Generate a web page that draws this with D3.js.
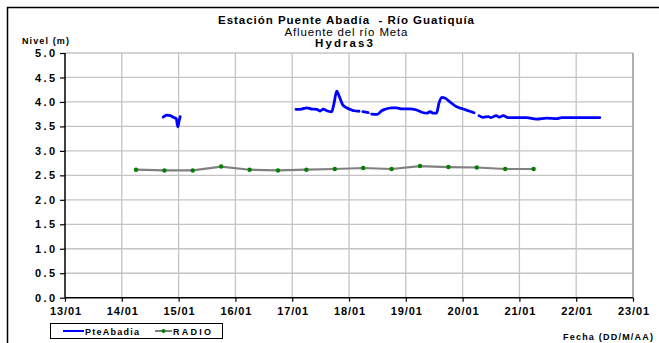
<!DOCTYPE html>
<html><head><meta charset="utf-8">
<script src="https://cdn.jsdelivr.net/npm/d3@7"></script>
<style>
body{margin:0;background:#fff;}
svg{display:block;font-family:"Liberation Sans",Arial,sans-serif;}
text{white-space:pre;}
</style></head>
<body><svg id="c" width="659" height="343"></svg>
<script>
const titleLines = ["Estación Puente Abadía  - Río Guatiquía", "Afluente del río Meta", "Hydras3"];
const yLabel = "Nivel (m)";
const xLabel = "Fecha (DD/M/AA)";
const seriesNames = ["PteAbadia", "RADIO"];
const yTicks = [0, 0.5, 1, 1.5, 2, 2.5, 3, 3.5, 4, 4.5, 5];

// PteAbadia (null = gap)
const pteTimes = [
 "14/01 17:30","14/01 19:00","14/01 20:30","14/01 22:00","14/01 23:00","14/01 23:40","15/01 00:15","15/01 00:40",
 "15/01 06:00",
 "17/01 01:36","17/01 04:00","17/01 06:07","17/01 08:14","17/01 10:20","17/01 11:44","17/01 13:10","17/01 14:34",
 "17/01 16:40","17/01 17:40","17/01 18:48","17/01 19:55","17/01 21:20","17/01 23:00","18/01 01:08","18/01 02:10",
 "18/01 04:14","18/01 05:00",
 "18/01 05:50","18/01 08:10","18/01 09:00",
 "18/01 09:36","18/01 12:00","18/01 13:48","18/01 15:13","18/01 18:00","18/01 20:10","18/01 22:10","19/01 01:47",
 "19/01 04:35","19/01 06:45","19/01 08:50","19/01 10:15","19/01 11:40","19/01 13:00","19/01 14:00","19/01 15:10",
 "19/01 16:30","19/01 18:40","19/01 21:30","20/01 00:15","20/01 03:00","20/01 04:50","20/01 06:00",
 "20/01 06:55","20/01 08:40","20/01 10:50","20/01 12:00","20/01 14:10","20/01 15:30","20/01 17:10","20/01 19:15",
 "20/01 22:50","21/01 03:00","21/01 07:15","21/01 11:30","21/01 15:50","21/01 17:50","21/01 21:20","22/01 10:00"
];
const pteValues = [
 3.69,3.73,3.72,3.68,3.66,3.49,3.62,3.70,
 null,
 3.85,3.855,3.88,3.855,3.85,3.815,3.855,3.82,
 3.80,3.97,4.22,4.11,3.94,3.88,3.835,3.82,
 3.81,null,
 3.80,3.78,null,
 3.75,3.745,3.82,3.85,3.88,3.88,3.86,3.86,
 3.835,3.79,3.77,3.80,3.77,3.77,3.97,4.095,
 4.08,4.00,3.90,3.855,3.81,3.78,null,
 3.72,3.685,3.70,3.68,3.72,3.69,3.72,3.68,
 3.68,3.68,3.65,3.67,3.66,3.68,3.68,3.68
];

// RADIO
const radioTimes = ["14/01 06:00","14/01 18:00","15/01 06:00","15/01 18:00","16/01 06:00","16/01 18:00","17/01 06:00",
 "17/01 18:00","18/01 06:00","18/01 18:00","19/01 06:00","19/01 18:00","20/01 06:00","20/01 18:00","21/01 06:00"];
const radioValues = [2.615,2.60,2.60,2.68,2.615,2.60,2.615,2.63,2.65,2.63,2.69,2.67,2.66,2.63,2.63];

const parse = d3.timeParse("%d/%m %H:%M");
const svg = d3.select("#c");

// outer frame
svg.append("rect").attr("x",7.5).attr("y",7.5).attr("width",670).attr("height",350)
  .attr("fill","none").attr("stroke","#000").attr("stroke-width",1.5);

const x = d3.scaleTime().domain([parse("13/01 00:00"), parse("23/01 00:00")]).range([65, 633]);
const y = d3.scaleLinear().domain([0,5]).range([297.7, 53]);

// grid
const g = svg.append("g");
g.selectAll(".hg").data(yTicks.slice(1)).join("line")
  .attr("x1",65).attr("x2",633).attr("y1",d=>y(d)).attr("y2",d=>y(d))
  .attr("stroke","#c4c4c4").attr("stroke-width",1.3);
const days = d3.timeDay.range(parse("13/01 00:00"), d3.timeDay.offset(parse("23/01 00:00"),1));
g.selectAll(".vg").data(days.slice(1)).join("line")
  .attr("x1",d=>x(d)).attr("x2",d=>x(d)).attr("y1",53).attr("y2",297.7)
  .attr("stroke","#c4c4c4").attr("stroke-width",1.3);
svg.append("line").attr("x1",633).attr("x2",633).attr("y1",53).attr("y2",297.7).attr("stroke","#999").attr("stroke-width",1.3);

// axes
const yAxis = d3.axisLeft(y).tickValues(yTicks).tickFormat(d3.format(".1f")).tickSize(5).tickPadding(5);
const ya = svg.append("g").attr("transform","translate(65,0)").call(yAxis);
const xAxis = d3.axisBottom(x).tickValues(days).tickFormat(d3.timeFormat("%d/%m")).tickSize(4).tickPadding(6);
const xa = svg.append("g").attr("transform","translate(0,297.7)").call(xAxis);
[ya, xa].forEach(a=>{
  a.select(".domain").attr("stroke","#000").attr("stroke-width",1.5);
  a.selectAll(".tick line").attr("stroke","#000").attr("stroke-width",1.2);
  a.selectAll("text").attr("fill","#000").attr("font-weight","bold").attr("font-size","11px")
    .attr("font-family","Liberation Sans, Arial, sans-serif").attr("lengthAdjust","spacing");
});
ya.selectAll("text").attr("textLength",20);
xa.selectAll("text").attr("textLength",31);
ya.select(".domain").attr("d","M0,53V297.7");
xa.select(".domain").attr("d","M65,0H633");

// RADIO line
const ptsR = radioTimes.map((t,i)=>({t:parse(t), v:radioValues[i]}));
svg.append("path").datum(ptsR)
  .attr("d", d3.line().x(d=>x(d.t)).y(d=>y(d.v)))
  .attr("fill","none").attr("stroke","#808080").attr("stroke-width",2.2);
svg.selectAll(".rdot").data(ptsR).join("circle")
  .attr("cx",d=>x(d.t)).attr("cy",d=>y(d.v)).attr("r",2.2).attr("fill","#008000");

// PteAbadia
const ptsP = pteTimes.map((t,i)=>({t:parse(t), v:pteValues[i]}));
svg.append("path").datum(ptsP)
  .attr("d", d3.line().defined(d=>d.v!==null).x(d=>x(d.t)).y(d=>y(d.v)).curve(d3.curveMonotoneX))
  .attr("fill","none").attr("stroke","#0000ff").attr("stroke-width",2.8)
  .attr("stroke-linejoin","round").attr("stroke-linecap","round");

// text helper
function txt(xp, yp, s, size, bold, anchor, len){
  const t = svg.append("text").attr("x",xp).attr("y",yp).attr("font-size",size+"px")
    .attr("font-weight",bold?"bold":"normal").attr("text-anchor",anchor).text(s);
  if(len){ t.attr("textLength",len).attr("lengthAdjust","spacing"); }
  return t;
}
txt(346, 24, titleLines[0], 11.5, true, "middle", 256);
txt(346, 35.5, titleLines[1], 11.5, false, "middle", 123);
txt(344, 47, titleLines[2], 11.5, true, "middle", 58);
txt(22, 44, yLabel, 9, true, "start", 47);
txt(653, 339.5, xLabel, 9, true, "end", 90);

// legend
const lg = svg.append("g");
svg.append("rect").attr("x",50.5).attr("y",323.5).attr("width",172).attr("height",15)
  .attr("fill","#fff").attr("stroke","#000").attr("stroke-width",1).lower();
svg.append("line").attr("x1",63).attr("x2",84).attr("y1",331).attr("y2",331).attr("stroke","#0000ff").attr("stroke-width",2);
txt(85, 334.5, seriesNames[0], 9, true, "start", 54);
svg.append("line").attr("x1",155).attr("x2",172).attr("y1",331).attr("y2",331).attr("stroke","#808080").attr("stroke-width",2);
svg.append("circle").attr("cx",163.5).attr("cy",331).attr("r",2).attr("fill","#008000");
txt(173, 334.5, seriesNames[1], 9, true, "start", 38);
</script></body></html>
